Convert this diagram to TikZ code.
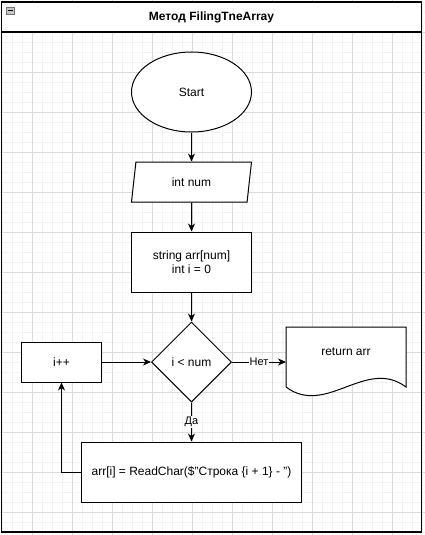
\documentclass[tikz,border=0pt]{standalone}
\usepackage{fontspec}
\setmainfont{Liberation Sans}
\usetikzlibrary{shapes.geometric,arrows.meta}
\tikzset{gridminor/.style={black!5, line width=.8pt},
         gridmajor/.style={black!14, line width=.8pt},
         terminal/.style={ellipse, draw, fill=white,
         minimum width=120, minimum height=80, inner sep=0pt},
         io/.style={trapezium, trapezium left angle=63.4,
         trapezium right angle=116.6, trapezium stretches body,
         draw, fill=white, minimum width=120, minimum height=40, inner sep=0pt},
         process/.style={rectangle, draw, fill=white, align=center,
         minimum width=#1, inner sep=0pt},
         process/.default={120},
         decision/.style={diamond, draw, fill=white,
         minimum width=80, minimum height=80, inner sep=0pt},
         edgelabel/.style={fill=white, inner sep=1pt, font=\fontsize{11}{13}\selectfont}}

\begin{document}
\begin{tikzpicture}[x=1pt, y=-1pt, line width=1pt,
    font=\fontsize{12}{14.5}\selectfont,
    >={Stealth[length=8pt, width=7pt, inset=2.5pt]}]
    \useasboundingbox (0,0) rectangle (425,535);
    \fill[white] (0,0) rectangle (425,535);

    % background grid
    \foreach \gx in {2,12,...,422} \draw[gridminor] (\gx,0) -- (\gx,535);
    \foreach \gy in {2,12,...,532} \draw[gridminor] (0,\gy) -- (425,\gy);
    \foreach \gx in {32,72,...,392} \draw[gridmajor] (\gx,0) -- (\gx,535);
    \foreach \gy in {32,72,...,512} \draw[gridmajor] (0,\gy) -- (425,\gy);

    % container with title
    \fill[white] (1.5,2) rectangle (421.5,32);
    \draw[line width=1.3pt] (1.5,2) rectangle (421.5,532);
    \draw[line width=1.3pt] (1.5,32) -- (421.5,32);
    \node[font=\fontsize{12}{14}\bfseries] (title) at (211.5,17) {Метод FilingTneArray};
    \draw[black!55, fill=black!22, line width=.8pt] (6.5,7) rectangle (14,14.5);
    \draw[line width=1.2pt] (8,10.8) -- (12.5,10.8);

    \node[terminal] (start) at (191.5,92) {Start};
    \node[io] (num) at (191.5,182) {int num};
    \node[process, minimum height=60] (init) at (191.5,262) {string arr[num]\\int i = 0};
    \node[decision] (cond) at (191.5,362) {i < num};
    \node[process=80, minimum height=40] (inc) at (61.5,362) {i++};
    \node[process=220, minimum height=60] (read) at (191.5,472)
         {arr[i] = ReadChar(\$\symbol{34}Строка \{i + 1\} - \symbol{34})};

    \node[minimum width=120, minimum height=60, inner sep=0pt, outer sep=0pt] (ret) at (346,357) {};
    \draw[fill=white] (ret.north west) -- (ret.north east) -- (ret.south east)
        .. controls +(-40,-30) and +(40,30) .. (ret.south west) -- cycle;
    \node (rettext) at (346,352) {return arr};

    \draw[->] (start) -- (num);
    \draw[->] (num) -- (init);
    \draw[->] (init) -- (cond);
    \draw[->] (cond.south) -- node[edgelabel] {Да} (read.north);
    \draw[->] (cond.east) -- node[edgelabel] {Нет} (cond.east -| ret.west);
    \draw[->] (inc.east) -- (cond.west);
    \draw[->] (read.west) -| (inc.south);
\end{tikzpicture}
\end{document}
